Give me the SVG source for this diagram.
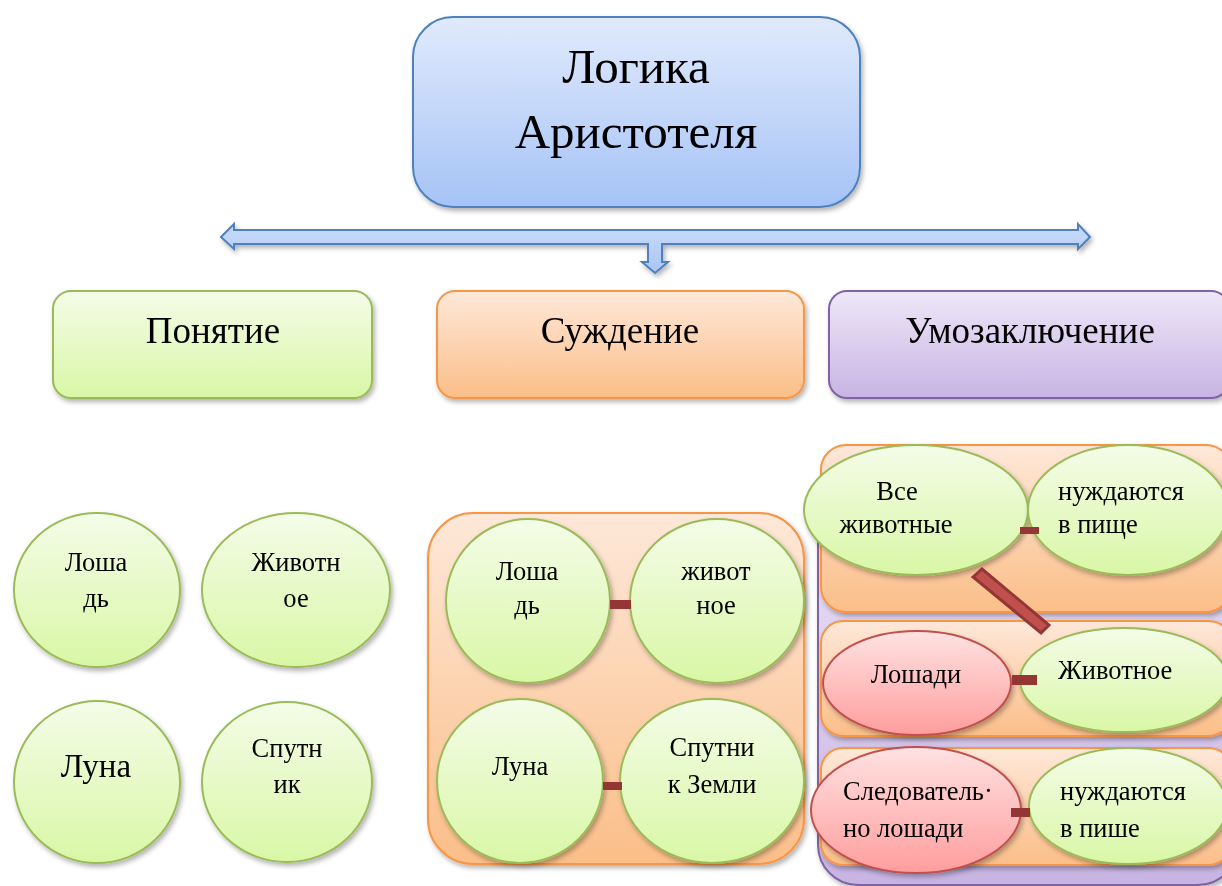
<svg xmlns="http://www.w3.org/2000/svg" width="1222" height="886" viewBox="0 0 1222 886">
<defs>
<linearGradient id="gBlue" x1="0" y1="0" x2="0" y2="1"><stop offset="0" stop-color="#e1eafc"/><stop offset="1" stop-color="#a5c3f6"/></linearGradient>
<linearGradient id="gGreen" x1="0" y1="0" x2="0" y2="1"><stop offset="0" stop-color="#f4fce8"/><stop offset="1" stop-color="#d9f7a6"/></linearGradient>
<linearGradient id="gOrange" x1="0" y1="0" x2="0" y2="1"><stop offset="0" stop-color="#fee8d9"/><stop offset="1" stop-color="#fbbe88"/></linearGradient>
<linearGradient id="gPurple" x1="0" y1="0" x2="0" y2="1"><stop offset="0" stop-color="#eee7f8"/><stop offset="1" stop-color="#c8b4e3"/></linearGradient>
<linearGradient id="gPink" x1="0" y1="0" x2="0" y2="1"><stop offset="0" stop-color="#ffe2e2"/><stop offset="1" stop-color="#ff9d9d"/></linearGradient>
<linearGradient id="gArrow" x1="0" y1="0" x2="0" y2="1"><stop offset="0" stop-color="#c9dbf9"/><stop offset="1" stop-color="#a9c5f5"/></linearGradient>
<filter id="sh" x="-10%" y="-10%" width="125%" height="130%"><feDropShadow dx="2" dy="3" stdDeviation="2.5" flood-color="#000" flood-opacity="0.3"/></filter>
</defs>
<style>
text{font-family:"Liberation Serif","Times New Roman",serif;fill:#000;}
.t1{font-size:49px;text-anchor:middle;}
.t2{font-size:37px;text-anchor:middle;}
.c{font-size:26.5px;text-anchor:middle;}
.l{font-size:26.5px;}
.blue{fill:url(#gBlue);stroke:#4f81bd;stroke-width:2;}
.green{fill:url(#gGreen);stroke:#9bbb59;stroke-width:2;}
.orange{fill:url(#gOrange);stroke:#f79646;stroke-width:2;}
.purple{fill:url(#gPurple);stroke:#8064a2;stroke-width:2;}
.pink{fill:url(#gPink);stroke:#c0504d;stroke-width:2;}
.bar{fill:#943634;}
</style>

<g id="title" filter="url(#sh)">
<rect class="blue" x="413" y="17" width="447" height="190" rx="40"/>
<text class="t1" x="636" y="83">Логика</text>
<text class="t1" x="636" y="148">Аристотеля</text>
</g>

<g id="branch-arrow" filter="url(#sh)">
<path d="M221,237 L234,224 L234,230 L1078,230 L1078,224 L1090,237 L1078,249 L1078,244 L662,244 L662,262 L668,262 L655,273 L642,262 L648,262 L648,244 L234,244 L234,249 Z" fill="url(#gArrow)" stroke="#4f81bd" stroke-width="2" stroke-linejoin="miter"/>
</g>

<g id="ponyatie" filter="url(#sh)">
<rect class="green" x="53" y="291" width="319" height="107" rx="18"/>
<text class="t2" x="213" y="343">Понятие</text>
</g>
<g id="suzhdenie" filter="url(#sh)">
<rect class="orange" x="437" y="291" width="367" height="107" rx="18"/>
<text class="t2" x="620" y="343">Суждение</text>
</g>
<g id="umozakl" filter="url(#sh)">
<rect class="purple" x="829" y="291" width="400" height="107" rx="18"/>
<text class="t2" x="1030" y="343">Умозаключение</text>
</g>

<!-- Понятие circles -->
<g id="p-loshad" filter="url(#sh)">
<ellipse class="green" cx="97" cy="590" rx="83" ry="77"/>
<text class="c" x="96" y="571">Лоша</text>
<text class="c" x="96" y="607">дь</text>
</g>
<g id="p-zhivotnoe" filter="url(#sh)">
<ellipse class="green" cx="296" cy="590" rx="94" ry="77"/>
<text class="c" x="296" y="571">Животн</text>
<text class="c" x="296" y="607">ое</text>
</g>
<g id="p-luna" filter="url(#sh)">
<ellipse class="green" cx="97" cy="782" rx="83" ry="81"/>
<text x="96" y="777" style="font-size:33px;text-anchor:middle">Луна</text>
</g>
<g id="p-sputnik" filter="url(#sh)">
<ellipse class="green" cx="287" cy="782" rx="85" ry="80"/>
<text class="c" x="287" y="757">Спутн</text>
<text class="c" x="287" y="793">ик</text>
</g>

<!-- Суждение group -->
<g id="s-group" filter="url(#sh)">
<rect class="orange" x="428" y="513" width="376" height="351" rx="45"/>
</g>
<g id="s-loshad" filter="url(#sh)">
<ellipse class="green" cx="528" cy="601" rx="82" ry="82"/>
<text class="c" x="527" y="580">Лоша</text>
<text class="c" x="527" y="614">дь</text>
</g>
<g id="s-zhivotnoe" filter="url(#sh)">
<ellipse class="green" cx="717" cy="601" rx="87" ry="82"/>
<text class="c" x="716" y="580">живот</text>
<text class="c" x="716" y="614">ное</text>
</g>
<g id="s-luna" filter="url(#sh)">
<ellipse class="green" cx="520" cy="781" rx="83" ry="82"/>
<text class="c" x="520" y="775">Луна</text>
</g>
<g id="s-sputnik" filter="url(#sh)">
<ellipse class="green" cx="712" cy="781" rx="92" ry="82"/>
<text class="c" x="712" y="756">Спутни</text>
<text class="c" x="712" y="793">к Земли</text>
</g>

<!-- Умозаключение group -->
<g id="u-back" filter="url(#sh)">
<rect class="purple" x="818" y="460" width="420" height="425" rx="40"/>
</g>
<g id="u-row1" filter="url(#sh)">
<rect class="orange" x="821" y="445" width="410" height="167" rx="25"/>
</g>
<g id="u-row2" filter="url(#sh)">
<rect class="orange" x="821" y="621" width="410" height="115" rx="22"/>
</g>
<g id="u-row3" filter="url(#sh)">
<rect class="orange" x="821" y="748" width="410" height="117" rx="22"/>
</g>
<g id="u-vse" filter="url(#sh)">
<ellipse class="green" cx="916" cy="510" rx="112" ry="65"/>
<text class="c" x="897" y="500">Все</text>
<text class="c" x="896" y="533">животные</text>
</g>
<g id="u-nuzh1" filter="url(#sh)">
<ellipse class="green" cx="1128" cy="510" rx="100" ry="65"/>
<text class="l" x="1058" y="500">нуждаются</text>
<text class="l" x="1058" y="533">в пище</text>
</g>
<g id="u-loshadi" filter="url(#sh)">
<ellipse class="pink" cx="917" cy="683" rx="94" ry="52"/>
<text class="c" x="916" y="683">Лошади</text>
</g>
<g id="u-zhivotnoe" filter="url(#sh)">
<ellipse class="green" cx="1124" cy="680" rx="104" ry="52"/>
<text class="l" x="1058" y="679">Животное</text>
</g>
<g id="u-sled" filter="url(#sh)">
<ellipse class="pink" cx="916" cy="810" rx="105" ry="63"/>
<text class="l" x="843" y="800">Следователь·</text>
<text class="l" x="843" y="837">но лошади</text>
</g>
<g id="u-nuzh2" filter="url(#sh)">
<ellipse class="green" cx="1128" cy="806" rx="99" ry="58"/>
<text class="l" x="1060" y="800">нуждаются</text>
<text class="l" x="1060" y="837">в пише</text>
</g>

<g id="connectors">
<rect class="bar" x="610" y="600" width="21" height="9"/>
<rect class="bar" x="603" y="782" width="19" height="8"/>
<rect class="bar" x="1020" y="527" width="19" height="7"/>
<rect class="bar" x="1012" y="675" width="25" height="10"/>
<rect class="bar" x="1011" y="808" width="19" height="9"/>
<polygon points="973,577 982,569 1049,625 1041,633" fill="#c0504d" stroke="#943634" stroke-width="3"/>
</g>
</svg>
